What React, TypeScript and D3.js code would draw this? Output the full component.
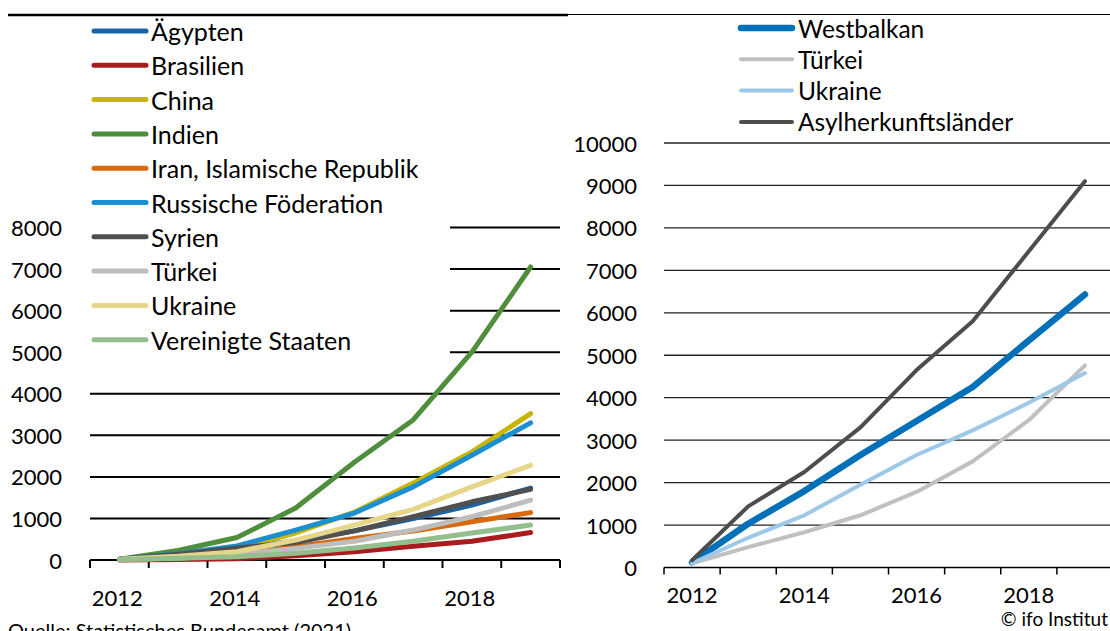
import React from "react";
import * as d3 from "d3";

// Jahre (beide Panels)
const years = [2012, 2013, 2014, 2015, 2016, 2017, 2018, 2019];
const yearLabels = [2012, 2014, 2016, 2018];

// linkes Panel: Herkunftsländer
const leftNames = [
    "Ägypten",
    "Brasilien",
    "China",
    "Indien",
    "Iran, Islamische Republik",
    "Russische Föderation",
    "Syrien",
    "Türkei",
    "Ukraine",
    "Vereinigte Staaten",
];
const leftColors = [
    "#1c63a6", "#a81c1f", "#c9b500", "#4f8e3b", "#d8690f",
    "#1b8fd0", "#505050", "#bdbdbd", "#e6d68a", "#93bf8c",
];
const aegypten = [20, 140, 290, 460, 700, 1000, 1320, 1730];
const brasilien = [0, 10, 30, 100, 200, 330, 450, 660];
const china = [20, 130, 280, 650, 1150, 1850, 2600, 3520];
const indien = [20, 230, 540, 1250, 2350, 3370, 5000, 7050];
const iran = [10, 40, 120, 320, 520, 700, 920, 1140];
const russland = [20, 150, 340, 720, 1130, 1760, 2520, 3300];
const syrien = [20, 140, 290, 420, 700, 1040, 1400, 1700];
const tuerkeiL = [10, 50, 130, 280, 450, 720, 1040, 1440];
const ukraineL = [20, 90, 200, 480, 840, 1220, 1760, 2280];
const usa = [10, 40, 80, 160, 290, 450, 650, 840];
const leftSeries = [aegypten, brasilien, china, indien, iran, russland, syrien, tuerkeiL, ukraineL, usa];
const leftTicks = [0, 1000, 2000, 3000, 4000, 5000, 6000, 7000, 8000];

// rechtes Panel: Regionen
const rightNames = ["Westbalkan", "Türkei", "Ukraine", "Asylherkunftsländer"];
const rightColors = ["#0070b8", "#c0c0c0", "#9dc8e8", "#4d4d4d"];
const rightWidths = [6.5, 4, 4, 4];
const westbalkan = [120, 1030, 1800, 2650, 3450, 4250, 5350, 6430];
const tuerkeiR = [100, 480, 830, 1230, 1780, 2500, 3470, 4760];
const ukraineR = [100, 700, 1230, 1950, 2650, 3230, 3880, 4580];
const asyl = [170, 1440, 2250, 3300, 4650, 5800, 7450, 9100];
const rightSeries = [westbalkan, tuerkeiR, ukraineR, asyl];
const rightTicks = [0, 1000, 2000, 3000, 4000, 5000, 6000, 7000, 8000, 9000, 10000];

const W = 1110;
const H = 631;
const FONT = "Lato, 'Open Sans', sans-serif";

export default function App() {
    // scales links
    const xL = d3.scaleBand<number>().domain(years).range([90, 560]);
    const yL = d3.scaleLinear().domain([0, 8000]).range([560, 227.5]);
    const lineL = d3
        .line<number>()
        .x((_, i) => (xL(years[i]) as number) + xL.bandwidth() / 2)
        .y((d) => yL(d));

    // scales rechts
    const xR = d3.scaleBand<number>().domain(years).range([664, 1113]);
    const yR = d3.scaleLinear().domain([0, 10000]).range([567.5, 143]);
    const lineR = d3
        .line<number>()
        .x((_, i) => (xR(years[i]) as number) + xR.bandwidth() / 2)
        .y((d) => yR(d));

    const tickPosL = [...years.map((y) => xL(y) as number), 560];
    const tickPosR = [...years.map((y) => xR(y) as number), 1113];

    return (
        <svg
            width={W}
            height={H}
            style={{ position: "absolute", left: 0, top: 0, background: "#fff" }}
            fontFamily={FONT}
        >
            {/* obere Linien */}
            <line x1={8} x2={568} y1={15} y2={15} stroke="#000" strokeWidth={2.5} />
            <line x1={568} x2={W} y1={14.5} y2={14.5} stroke="#000" strokeWidth={1.2} />

            {/* ===== linkes Panel ===== */}
            {leftTicks.map((t) => (
                <g key={"gl" + t}>
                    {t > 0 && (
                        <line x1={90} x2={560} y1={yL(t)} y2={yL(t)} stroke="#000" strokeWidth={2} />
                    )}
                    <text x={62} y={yL(t)} textAnchor="end" dominantBaseline="central" fontSize={22} fill="#000">
                        {t}
                    </text>
                </g>
            ))}
            <line x1={90} x2={560} y1={yL(0)} y2={yL(0)} stroke="#000" strokeWidth={2} />
            {tickPosL.map((x, i) => (
                <line key={"tl" + i} x1={x} x2={x} y1={yL(0)} y2={yL(0) + 8} stroke="#000" strokeWidth={2} />
            ))}
            {yearLabels.map((y) => (
                <text
                    key={"xl" + y}
                    x={(xL(y) as number) + xL.bandwidth() / 2 - 2}
                    y={597}
                    textAnchor="middle"
                    dominantBaseline="central"
                    fontSize={22}
                >
                    {y}
                </text>
            ))}

            {/* Legende links (weißer Kasten über den Gitterlinien) */}
            <rect x={70} y={18} width={380} height={350} fill="#fff" />
            {leftSeries.map((s, i) => (
                <path
                    key={"ll" + i}
                    d={lineL(s) || ""}
                    fill="none"
                    stroke={leftColors[i]}
                    strokeWidth={5}
                    strokeLinejoin="round"
                    strokeLinecap="round"
                />
            ))}
            {leftNames.map((n, i) => {
                const cy = 31 + i * 34.3;
                return (
                    <g key={"lg" + i}>
                        <line x1={94} x2={146} y1={cy} y2={cy} stroke={leftColors[i]} strokeWidth={5} strokeLinecap="round" />
                        <text x={151} y={cy} dominantBaseline="central" fontSize={25}>
                            {n}
                        </text>
                    </g>
                );
            })}

            {/* ===== rechtes Panel ===== */}
            {rightTicks.map((t) => (
                <g key={"gr" + t}>
                    {t > 0 && (
                        <line x1={664} x2={W} y1={yR(t)} y2={yR(t)} stroke="#222" strokeWidth={1.3} />
                    )}
                    <text x={637} y={yR(t)} textAnchor="end" dominantBaseline="central" fontSize={22}>
                        {t}
                    </text>
                </g>
            ))}
            <line x1={664} x2={W} y1={yR(0)} y2={yR(0)} stroke="#000" strokeWidth={1.5} />
            {tickPosR.map((x, i) => (
                <line key={"tr" + i} x1={x} x2={x} y1={yR(0)} y2={yR(0) + 7} stroke="#000" strokeWidth={1.5} />
            ))}
            {yearLabels.map((y) => (
                <text
                    key={"xr" + y}
                    x={(xR(y) as number) + xR.bandwidth() / 2}
                    y={594}
                    textAnchor="middle"
                    dominantBaseline="central"
                    fontSize={22}
                >
                    {y}
                </text>
            ))}
            {rightSeries.map((s, i) => (
                <path
                    key={"rl" + i}
                    d={lineR(s) || ""}
                    fill="none"
                    stroke={rightColors[i]}
                    strokeWidth={rightWidths[i]}
                    strokeLinejoin="round"
                    strokeLinecap="round"
                />
            ))}
            {rightNames.map((n, i) => {
                const cy = 28 + i * 31.3;
                return (
                    <g key={"rg" + i}>
                        <line x1={741} x2={792} y1={cy} y2={cy} stroke={rightColors[i]} strokeWidth={rightWidths[i]} strokeLinecap="round" />
                        <text x={798} y={cy} dominantBaseline="central" fontSize={24.5}>
                            {n}
                        </text>
                    </g>
                );
            })}

            {/* Quellen */}
            <text x={8} y={638} fontSize={20}>
                Quelle: Statistisches Bundesamt (2021)
            </text>
            <text x={1108} y={618} textAnchor="end" dominantBaseline="central" fontSize={19}>
                © ifo Institut
            </text>
        </svg>
    );
}
